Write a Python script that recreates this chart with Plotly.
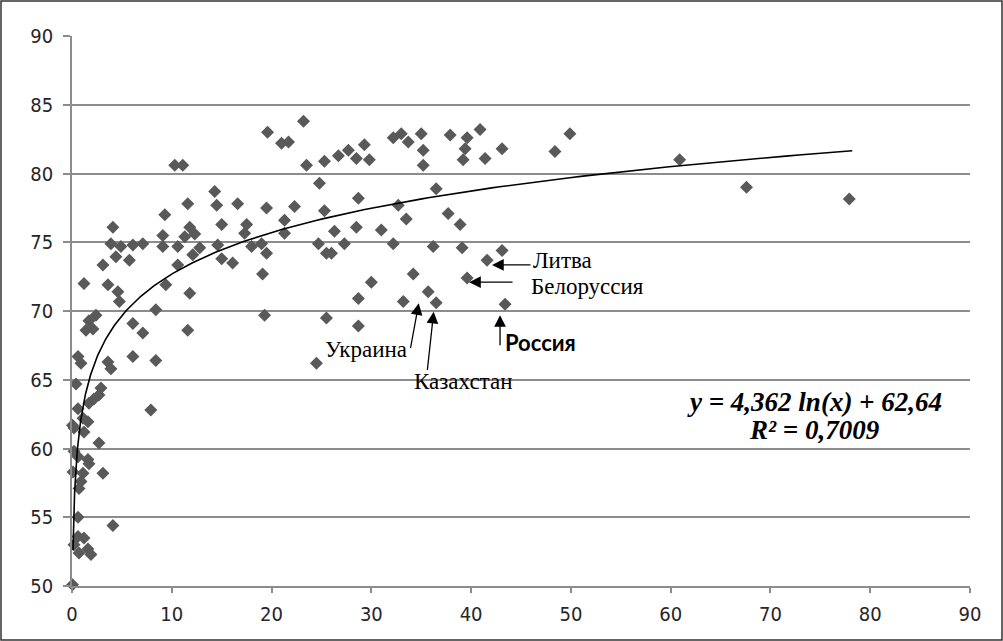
import numpy as np
import plotly.graph_objects as go

# ---- data ----
x_vals = [
    0.05, 0.6, 4.1, 0.6, 1.2, 0.2, 1.6, 0.7, 1.9, 0.9, 0.7, 0.1, 1.1, 3.1, 0.2, 0.6, 1.6, 1.7, 2.7,
    0.05, 0.2, 1.6, 1.2, 0.6, 1.1, 7.9, 1.7, 2.2, 2.7, 2.9, 0.4, 0.6, 0.9, 3.6, 3.9, 6.1, 8.4,
    1.7, 2.1, 1.4, 2.4, 6.1, 7.1, 11.6, 8.4, 1.2, 3.6, 4.6, 4.75, 9.4, 11.8, 3.1, 3.9, 4.9, 6.1,
    7.1, 4.4, 5.75, 4.1, 9.3, 9.1, 9.1, 10.6, 10.6,
    10.3, 11.1, 14.3, 11.6, 14.5, 16.6, 19.5, 22.3, 25.3, 15.0, 17.5, 21.3, 11.8, 12.3, 11.3,
    21.3, 17.3, 12.8, 14.6, 18.0, 19.0, 24.7, 25.5, 12.1, 15.0, 19.5, 16.1, 19.1, 19.3, 25.5,
    24.5, 24.8, 23.2, 19.6, 21.0, 21.7, 23.5, 25.3,
    26.7, 27.7, 28.5, 29.3, 29.8, 32.2, 33.0, 33.7, 35.0, 35.2, 35.2, 37.9, 39.6, 40.9, 39.4,
    39.2, 41.4, 43.1, 48.4, 49.9, 36.5, 28.7, 32.7, 33.5, 37.7, 38.9, 28.5, 31.0, 26.3, 27.3,
    32.2, 36.2, 39.1, 43.1, 41.6, 26.0, 34.2, 30.0, 39.6, 28.7, 35.7, 33.2, 36.5, 43.4, 28.7,
    60.9, 67.6, 77.9,
]
y_vals = [
    50.1, 55.0, 54.4, 53.6, 53.5, 53.0, 52.7, 52.4, 52.3, 57.6, 57.1, 58.3, 58.2, 58.2, 59.8, 59.4, 59.2, 58.9, 60.4,
    61.7, 61.5, 61.95, 61.2, 62.9, 62.2, 62.8, 63.3, 63.6, 63.9, 64.4, 64.7, 66.7, 66.2, 66.3, 65.8, 66.7, 66.4,
    69.3, 68.7, 68.6, 69.7, 69.1, 68.4, 68.6, 70.1, 72.0, 71.9, 71.4, 70.7, 71.9, 71.3, 73.35, 74.9, 74.7, 74.8,
    74.9, 73.95, 73.7, 76.1, 77.0, 75.5, 74.7, 74.7, 73.35,
    80.6, 80.6, 78.7, 77.8, 77.7, 77.8, 77.5, 77.6, 77.3, 76.3, 76.3, 76.6, 76.1, 75.6, 75.4,
    75.65, 75.65, 74.6, 74.8, 74.7, 74.9, 74.9, 74.2, 74.1, 73.8, 74.2, 73.5, 72.7, 69.7, 69.5,
    66.2, 79.3, 83.8, 83.0, 82.2, 82.3, 80.6, 80.9,
    81.3, 81.7, 81.1, 82.1, 81.0, 82.6, 82.9, 82.3, 82.9, 81.7, 80.6, 82.8, 82.6, 83.2, 81.8,
    81.0, 81.1, 81.8, 81.6, 82.9, 78.9, 78.2, 77.7, 76.7, 77.1, 76.3, 76.1, 75.9, 75.8, 74.9,
    74.9, 74.7, 74.6, 74.4, 73.7, 74.2, 72.7, 72.1, 72.4, 70.9, 71.4, 70.7, 70.6, 70.5, 68.9,
    81.0, 79.0, 78.15,
]

x_ticks = [0, 10, 20, 30, 40, 50, 60, 70, 80, 90]
y_ticks = [50, 55, 60, 65, 70, 75, 80, 85, 90]

# logarithmic trend (equation shown on the chart)
TREND_A = 4.362
TREND_B = 62.64
TREND_X_MIN, TREND_X_MAX = 0.1, 78.2
eq_line1 = "y = 4,362 ln(x) + 62,64"
eq_line2 = "R² = 0,7009"

# labelled countries: label, arrow tip (x, y), arrow tail (x, y)
labels = ["Литва", "Белоруссия", "Украина", "Казахстан", "Россия"]
tip_x = [42.1, 39.8, 34.75, 36.25, 42.9]
tip_y = [73.35, 72.1, 70.56, 69.95, 69.7]
tail_x = [46.1, 44.3, 33.9, 35.6, 42.9]
tail_y = [73.35, 72.1, 67.2, 65.6, 67.4]
text_x = [46.15, 45.9, 29.5, 39.2, 47.0]
text_y = [73.7, 71.8, 67.2, 64.85, 67.7]
text_anchor = ["left", "left", "center", "center", "center"]

# ---- figure ----
W, H = 1003, 641
L, R, T, B = 72, 33, 36, 55

fig = go.Figure()
fig.add_trace(go.Scatter(
    x=x_vals, y=y_vals, mode="markers",
    marker=dict(symbol="diamond", size=10, color="#595959", line=dict(width=0)),
    cliponaxis=False, hoverinfo="skip", showlegend=False,
))

tx = np.geomspace(TREND_X_MIN, TREND_X_MAX, 300)
ty = TREND_A * np.log(tx) + TREND_B
fig.add_trace(go.Scatter(
    x=tx, y=ty, mode="lines", line=dict(color="black", width=1.6),
    hoverinfo="skip", showlegend=False,
))

serif = "Times New Roman, Liberation Serif, serif"
for i, lab in enumerate(labels):
    fig.add_annotation(
        x=tip_x[i], y=tip_y[i], ax=tail_x[i], ay=tail_y[i],
        xref="x", yref="y", axref="x", ayref="y",
        text="", showarrow=True, arrowhead=2, arrowsize=1.8, arrowwidth=1.3,
        arrowcolor="black",
    )
    bold = lab == "Россия"
    fig.add_annotation(
        x=text_x[i], y=text_y[i], xref="x", yref="y",
        text=f"<b>{lab}</b>" if bold else lab, showarrow=False,
        xanchor=text_anchor[i], yanchor="middle", borderpad=0,
        font=dict(family="Lato, Liberation Sans, sans-serif" if bold else serif,
                  size=22 if bold else 23, color="black"),
    )

fig.add_annotation(x=74.45, y=63.4, xref="x", yref="y", showarrow=False,
                   text=f"<b><i>{eq_line1}</i></b>", xanchor="center", yanchor="middle",
                   font=dict(family=serif, size=27, color="black"))
fig.add_annotation(x=74.45, y=61.35, xref="x", yref="y", showarrow=False,
                   text=f"<b><i>{eq_line2}</i></b>", xanchor="center", yanchor="middle",
                   font=dict(family=serif, size=27, color="black"))

pw = W - L - R
ph = H - T - B
fig.add_shape(type="rect", xref="paper", yref="paper",
              x0=-(L - 1) / pw, x1=1 + (R - 1) / pw, y0=-(B - 1) / ph, y1=1 + (T - 1) / ph,
              line=dict(color="#333333", width=1.5), layer="above")

tick_font = dict(family="Liberation Sans Narrow, DejaVu Sans Condensed, Arial Narrow, sans-serif",
                 size=20, color="#262626")
fig.update_xaxes(range=[0, 90], tickvals=x_ticks, showgrid=False, zeroline=False,
                 showline=True, linecolor="#8c8c8c", linewidth=1.5,
                 ticks="outside", ticklen=5, tickcolor="#8c8c8c", tickwidth=1.5,
                 tickfont=tick_font, ticklabelstandoff=4)
fig.update_yaxes(range=[50, 90], tickvals=y_ticks, showgrid=True, gridcolor="#8c8c8c",
                 gridwidth=1.5, zeroline=False, showline=True, linecolor="#8c8c8c",
                 linewidth=1.5, ticks="outside", ticklen=7, tickcolor="#8c8c8c",
                 tickwidth=1.5, tickfont=tick_font, ticklabelstandoff=6)
fig.update_layout(width=W, height=H, margin=dict(l=L, r=R, t=T, b=B),
                  plot_bgcolor="white", paper_bgcolor="white", showlegend=False)

fig.write_html("out.html", config={"displayModeBar": False},
               post_script="document.body.style.margin='0px';document.body.style.overflow='hidden';")
